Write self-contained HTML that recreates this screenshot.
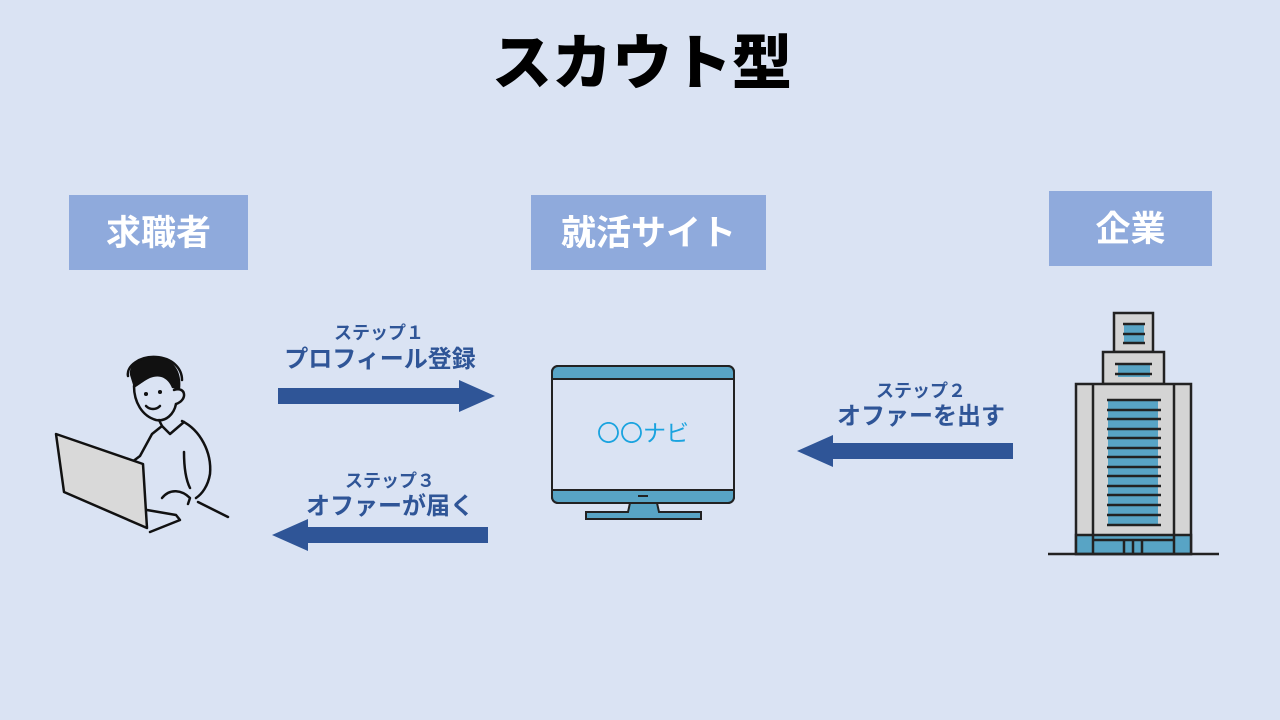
<!DOCTYPE html>
<html><head><meta charset="utf-8"><style>
body{margin:0;width:1280px;height:720px;background:#dae3f3;overflow:hidden;font-family:"Liberation Sans","Noto Sans CJK JP",sans-serif}
svg{position:absolute;left:0;top:0}
</style></head><body>
<svg width="1280" height="720" viewBox="0 0 1280 720" font-family="Liberation Sans, Noto Sans CJK JP, sans-serif">
<text x="642" y="84" text-anchor="middle" font-size="60" font-weight="900" fill="#000">スカウト型</text>
<rect x="69" y="195" width="179" height="75" fill="#8faadc"/>
<text x="158.5" y="245" text-anchor="middle" font-size="35" font-weight="bold" fill="#fff">求職者</text>
<rect x="531" y="195" width="235" height="75" fill="#8faadc"/>
<text x="648.5" y="245" text-anchor="middle" font-size="35" font-weight="bold" fill="#fff">就活サイト</text>
<rect x="1049" y="191" width="163" height="75" fill="#8faadc"/>
<text x="1130.5" y="241" text-anchor="middle" font-size="35" font-weight="bold" fill="#fff">企業</text>
<g fill="#2f5597" font-weight="bold">
<text x="379" y="339" text-anchor="middle" font-size="18">ステップ１</text>
<text x="380" y="367" text-anchor="middle" font-size="24">プロフィール登録</text>
<text x="921" y="397" text-anchor="middle" font-size="18">ステップ２</text>
<text x="921" y="424" text-anchor="middle" font-size="24">オファーを出す</text>
<text x="390" y="487" text-anchor="middle" font-size="18">ステップ３</text>
<text x="390" y="514" text-anchor="middle" font-size="24">オファーが届く</text>
<polygon points="278,388 459,388 459,380 495,396 459,412 459,404 278,404"/>
<polygon points="1013,443 833,443 833,435 797,451 833,467 833,459 1013,459"/>
<polygon points="488,527 308,527 308,519 272,535 308,551 308,543 488,543"/>
</g>
<!-- monitor -->
<g stroke="#222" stroke-width="2">
<rect x="552" y="366" width="182" height="137" rx="6" fill="#dae3f3"/>
<path d="M552,379 V372 a6,6 0 0 1 6,-6 H728 a6,6 0 0 1 6,6 V379 Z" fill="#58a4c5"/>
<path d="M552,490 V497 a6,6 0 0 0 6,6 H728 a6,6 0 0 0 6,-6 V490 Z" fill="#58a4c5"/>
<path d="M630,503 L628,512 H586 V519 H701 V512 H659 L657,503 Z" fill="#58a4c5"/>
</g>
<line x1="638" y1="496" x2="648" y2="496" stroke="#222" stroke-width="2"/>
<text x="643" y="441" text-anchor="middle" font-size="23" fill="#1aa3df">〇〇ナビ</text>
<!-- building -->
<g stroke="#222" stroke-width="2.5">
<rect x="1114" y="313" width="39" height="39" fill="#d4d4d4"/>
<rect x="1103" y="352" width="61" height="32" fill="#d4d4d4"/>
<rect x="1076" y="384" width="115" height="170" fill="#d4d4d4"/>
<rect x="1076" y="535" width="115" height="19" fill="#58a4c5"/>
<line x1="1093" y1="384" x2="1093" y2="554"/>
<line x1="1174" y1="384" x2="1174" y2="554"/>
<line x1="1093" y1="540" x2="1174" y2="540"/>
<line x1="1124" y1="540" x2="1124" y2="554"/>
<line x1="1133" y1="540" x2="1133" y2="554"/>
<line x1="1142" y1="540" x2="1142" y2="554"/>
<line x1="1048" y1="554" x2="1219" y2="554"/>
</g>
<g>
<rect x="1124" y="325" width="20" height="18" fill="#58a4c5"/>
<rect x="1118" y="364" width="32" height="13" fill="#58a4c5"/>
<rect x="1108" y="400" width="50" height="125" fill="#58a4c5"/>
</g>
<g stroke="#222" stroke-width="2.5">
<path d="M1123,324H1145M1123,334H1145M1123,343H1145M1115,364H1152M1115,374H1152"/>
<path d="M1107,400H1161M1107,410H1161M1107,419H1161M1107,429H1161M1107,438H1161M1107,448H1161M1107,457H1161M1107,467H1161M1107,476H1161M1107,486H1161M1107,495H1161M1107,505H1161M1107,515H1161M1107,525H1161"/>
</g>
<!-- person -->
<path d="M130,375 C128,362 146,354 162,358 C176,362 182,374 180,390 L172,388 C168,378 160,374 150,378 C142,382 138,386 134,388 Z" fill="#111"/>
<g stroke="#111" stroke-width="2.5" fill="none" stroke-linecap="round" stroke-linejoin="round">
<path d="M128,376 C126,366 140,356 156,357 C172,358 182,368 182,380"/>
<path d="M134,386 C134,402 142,416 156,420 C166,422 174,414 176,404"/>
<path d="M174,390 C186,386 188,400 176,404"/>
<circle cx="146" cy="394" r="0.8" fill="#111"/>
<circle cx="160" cy="392" r="0.8" fill="#111"/>
<path d="M146,406 C150,410 156,410 160,406"/>
<path d="M159,420 L162,426 L152,434 L140,456 L132,462"/>
<path d="M162,426 L170,434 L184,422"/>
<path d="M182,421 C200,430 212,452 210,474 C208,486 202,494 196,498"/>
<path d="M184,452 C184,468 186,480 190,488"/>
<path d="M162,498 C170,488 182,490 190,498 L188,504"/>
<path d="M198,502 L228,517"/>
<path d="M147,510 L176,515 L180,520 L150,532"/>
</g>
<path d="M56,434 L64,492 L147,528 L143,464 Z" fill="#d9d9d9" stroke="#111" stroke-width="2.5" stroke-linejoin="round"/>
</svg>
</body></html>
